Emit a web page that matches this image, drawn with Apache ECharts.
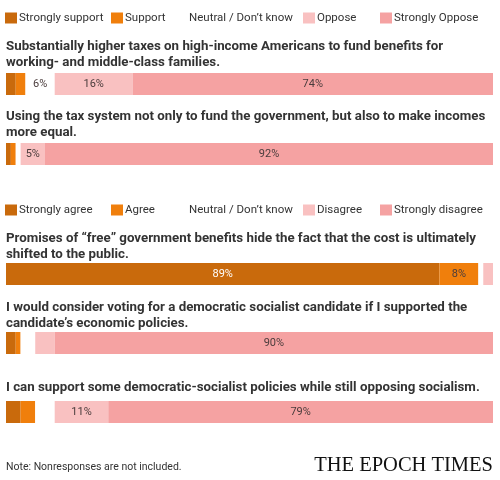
<!DOCTYPE html>
<html>
<head>
<meta charset="utf-8">
<script src="https://cdn.jsdelivr.net/npm/echarts@6/dist/echarts.min.js"></script>
<style>
  html, body { margin: 0; padding: 0; background: #fff; }
  #chart { width: 500px; height: 480px; }
</style>
</head>
<body>
<div id="chart"></div>
<script>
var myChart = echarts.init(document.getElementById('chart'));

// answer scales
var supportNames = ['Strongly support', 'Support', 'Neutral / Don\u2019t know', 'Oppose', 'Strongly Oppose'];
var agreeNames = ['Strongly agree', 'Agree', 'Neutral / Don\u2019t know ', 'Disagree', 'Strongly disagree'];
var colors = ['#c96a0c', '#f07f0c', '#ffffff', '#f9c1c1', '#f5a2a2'];

// questions
var questions = [
    'Substantially higher taxes on high-income Americans to fund benefits for\nworking- and middle-class families.',
    'Using the tax system not only to fund the government, but also to make incomes\nmore equal.',
    'Promises of \u201cfree\u201d government benefits hide the fact that the cost is ultimately\nshifted to the public.',
    'I would consider voting for a democratic socialist candidate if I supported the\ncandidate\u2019s economic policies.',
    'I can support some democratic-socialist policies while still opposing socialism.'
];
// percent per answer, one array per question (same order as the scale)
var q1 = [2, 2, 6, 16, 74];
var q2 = [1, 1, 1, 5, 92];
var q3 = [89, 8, 1, 2, 0];
var q4 = [2, 1, 3, 4, 90];
var q5 = [3, 3, 4, 11, 79];
var values = [q1, q2, q3, q4, q5];

var scaleOf = [0, 0, 1, 1, 1];
var barTop = [73, 143, 263, 332, 401];
var titleTop = [39, 109, 231, 300, 380];
var legendTop = [12, 204];
var legendLeft = [5, 111, 175, 303, 380];
var barH = 22;

var option = {
    backgroundColor: '#fff',
    animation: false,
    textStyle: { fontFamily: 'Roboto' },
    title: [],
    legend: [],
    grid: [],
    xAxis: [],
    yAxis: [],
    series: [],
    graphic: [{
        type: 'text',
        left: 6,
        top: 462,
        style: { text: 'Note: Nonresponses are not included.', fontSize: 10.5, fill: '#333', fontFamily: 'Roboto' }
    }, {
        type: 'text',
        right: 7,
        top: 455,
        style: { text: 'THE EPOCH TIMES', fontSize: 20.5, fill: '#111', fontFamily: 'Liberation Serif' }
    }]
};

// two legend rows, one legend per column
[supportNames, agreeNames].forEach(function (names, r) {
    names.forEach(function (name, i) {
        option.legend.push({
            data: [name],
            left: legendLeft[i],
            top: legendTop[r],
            padding: 0,
            itemWidth: 12,
            itemHeight: 11,
            itemGap: 2,
            icon: 'rect',
            selectedMode: false,
            textStyle: { fontSize: 11.5, color: '#333', padding: [0, 0, 0, -3] }
        });
    });
});

for (var n = 0; n < questions.length; n++) {
    option.title.push({
        text: questions[n],
        left: 6,
        top: titleTop[n],
        padding: 0,
        textStyle: { fontSize: 13.3, fontWeight: 'bold', color: '#333', lineHeight: 16 }
    });
    option.grid.push({ left: 6, right: 7, top: barTop[n], height: barH });
    option.xAxis.push({ type: 'value', gridIndex: n, min: 0, max: 100, show: false });
    option.yAxis.push({ type: 'category', gridIndex: n, data: [''], show: false });
    var names = scaleOf[n] === 0 ? supportNames : agreeNames;
    for (var k = 0; k < names.length; k++) {
        option.series.push({
            name: names[k],
            type: 'bar',
            stack: 'q' + n,
            xAxisIndex: n,
            yAxisIndex: n,
            barWidth: barH,
            itemStyle: { color: colors[k] },
            label: {
                show: values[n][k] >= 5,
                position: 'inside',
                formatter: '{c}%',
                fontSize: 11,
                color: k === 0 ? '#fff' : '#4a3c3c'
            },
            data: [values[n][k]]
        });
    }
}

myChart.setOption(option);
</script>
</body>
</html>
